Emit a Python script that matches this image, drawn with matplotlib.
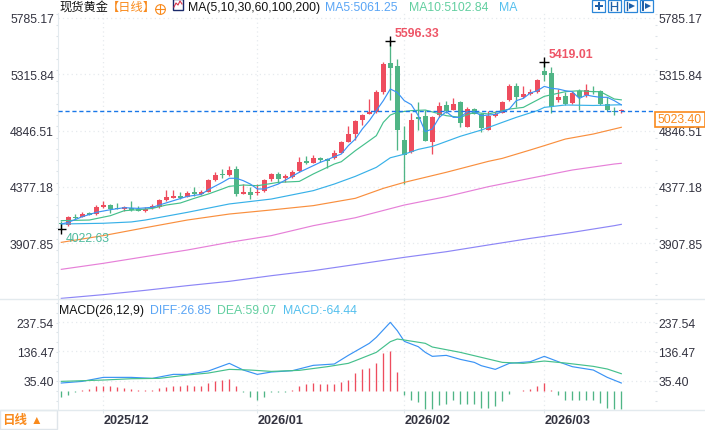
import matplotlib
matplotlib.use('Agg')
import matplotlib.pyplot as plt
from matplotlib.patches import Rectangle
from matplotlib.ticker import MultipleLocator

plt.rcParams['font.family'] = ['Liberation Sans', 'Noto Sans CJK SC', 'DejaVu Sans']

# daily candles, index 0 = first candle on the left
opens = [4072, 4059, 4125, 4126, 4160, 4151, 4210, 4226, 4200, 4193,
         4204, 4193, 4179, 4198, 4212, 4268, 4287, 4301, 4296, 4335,
         4315, 4337, 4435, 4478, 4476, 4526, 4320, 4337, 4324, 4346,
         4443, 4485, 4451, 4460, 4510, 4593, 4576, 4618, 4607, 4618,
         4660, 4751, 4818, 4935, 4985, 5001, 5168, 5410, 5385, 4768,
         4668, 4960, 4968, 4751, 4976, 5060, 5018, 5085, 4876, 5026,
         4985, 4851, 4968, 4993, 5101, 5218, 5127, 5152, 5168, 5343,
         5327, 5101, 5135, 5077, 5177, 5143, 5174, 5177, 5068, 5010, 5007]
highs = [4096, 4137, 4151, 4165, 4168, 4223, 4257, 4235, 4243, 4215,
         4257, 4215, 4212, 4232, 4276, 4351, 4351, 4332, 4340, 4374,
         4351, 4443, 4504, 4526, 4551, 4551, 4399, 4376, 4401, 4443,
         4496, 4499, 4482, 4518, 4629, 4635, 4643, 4629, 4618, 4682,
         4760, 4885, 4935, 4985, 5110, 5185, 5418, 5596.33, 5443, 4885,
         4993, 5085, 5018, 4965, 5085, 5093, 5118, 5093, 5043, 5035,
         4993, 5010, 5010, 5093, 5235, 5243, 5218, 5193, 5277, 5419.01,
         5377, 5193, 5168, 5177, 5193, 5235, 5218, 5185, 5127, 5043, 5026]
lows = [4022.63, 4048, 4110, 4123, 4140, 4146, 4198, 4157, 4193, 4179,
        4176, 4176, 4171, 4193, 4198, 4260, 4285, 4276, 4290, 4304,
        4312, 4332, 4426, 4449, 4471, 4298, 4320, 4276, 4312, 4332,
        4429, 4410, 4415, 4448, 4504, 4565, 4573, 4582, 4532, 4612,
        4660, 4751, 4768, 4893, 4985, 4993, 5152, 5102, 4685, 4401,
        4660, 4851, 4760, 4651, 4960, 4993, 5018, 4876, 4876, 4985,
        4835, 4851, 4960, 4993, 5093, 5043, 5118, 5143, 5160, 5260,
        4993, 5085, 5060, 5068, 5018, 5127, 5152, 5060, 5010, 4976, 4993]
closes = [4065, 4123, 4120, 4151, 4146, 4210, 4226, 4190, 4197, 4207,
          4182, 4179, 4193, 4215, 4268, 4293, 4301, 4282, 4326, 4315,
          4335, 4435, 4479, 4474, 4518, 4318, 4337, 4310, 4332, 4435,
          4485, 4443, 4468, 4501, 4585, 4576, 4618, 4604, 4590, 4660,
          4751, 4818, 4926, 4977, 5001, 5168, 5402, 5368, 4851, 4643,
          4935, 4943, 4760, 4957, 5052, 5010, 5068, 4910, 5026, 4985,
          4868, 4968, 4985, 5088, 5218, 5127, 5152, 5168, 5268, 5310,
          5043, 5127, 5068, 5160, 5127, 5182, 5168, 5068, 5018, 5004, 5013]

ma5_x = [0, 1, 3, 5, 7, 9, 11, 13, 14, 16, 18, 20, 21, 23, 24, 25, 26, 27, 28, 29, 31, 34,
         37, 38, 39, 40, 41, 42, 43, 44, 45, 46, 47, 48, 49, 50, 51, 52, 53, 54, 55, 56, 57,
         58, 59, 60, 61, 62, 63, 64, 65, 66, 67, 68, 69, 70, 71, 72, 73, 74, 75, 76, 77, 78, 79, 80]
ma5 = [4068, 4082, 4129, 4165, 4187, 4204, 4198, 4207, 4226, 4262, 4298, 4315, 4354, 4415, 4449, 4449,
       4429, 4401, 4360, 4360, 4401, 4499, 4582, 4604, 4629, 4651, 4721, 4776, 4860, 4929, 5013, 5096,
       5193, 5165, 5096, 5063, 4971, 4838, 4860, 4957, 5004, 4957, 4957, 5004, 5004, 4971, 4976, 4982,
       5004, 5026, 5096, 5115, 5160, 5179, 5215, 5199, 5193, 5179, 5171, 5115, 5143, 5132, 5124, 5124, 5096, 5061.25]
ma10_x = [0, 4, 7, 9, 11, 13, 15, 17, 19, 21, 23, 24, 26, 28, 31, 34, 36, 39, 40, 42, 44, 45, 46,
          47, 48, 50, 52, 55, 57, 59, 61, 64, 66, 69, 72, 74, 76, 77, 79, 80]
ma10 = [4096, 4101, 4137, 4179, 4187, 4198, 4226, 4243, 4282, 4318, 4360, 4382, 4393, 4387, 4415, 4423,
        4485, 4568, 4587, 4679, 4762, 4804, 4915, 4976, 4999, 5013, 5018, 4971, 4957, 4999, 4985, 5026,
        5040, 5132, 5171, 5179, 5171, 5171, 5110, 5102.84]
ma30_x = [0, 6, 10, 12, 18, 24, 30, 36, 39, 42, 45, 47, 49, 51, 53, 54, 57, 60, 63, 65, 68, 69, 72, 76, 80]
ma30 = [4068, 4074, 4085, 4101, 4165, 4235, 4276, 4346, 4401, 4465, 4540, 4620, 4650, 4690, 4715, 4735,
        4799, 4851, 4915, 4957, 5013, 5040, 5060, 5056, 5062]
ma60_x = [0, 6, 12, 18, 24, 30, 36, 42, 46, 49, 55, 61, 63, 67, 69, 72, 76, 80]
ma60 = [3915, 3971, 4037, 4101, 4151, 4185, 4221, 4282, 4365, 4415, 4499, 4590, 4615, 4685, 4721, 4776, 4818, 4874]
ma100_x = [0, 6, 12, 18, 24, 30, 36, 42, 49, 55, 61, 67, 73, 79, 80]
ma100 = [3690, 3740, 3796, 3851, 3915, 3971, 4054, 4120, 4226, 4296, 4379, 4449, 4518, 4568, 4574]
ma200_x = [0, 6, 12, 18, 24, 30, 36, 42, 49, 55, 61, 67, 73, 79, 80]
ma200 = [3448, 3479, 3515, 3554, 3590, 3637, 3679, 3730, 3790, 3837, 3893, 3948, 3998, 4054, 4065]

macd_hist = [-20.8, -13.8, -5.8, 3.5, 6.9, 15, 17.3, 17.3, 13.8, 10.4,
             6.9, 2.3, 1.2, 1.2, 8.1, 12.7, 15, 15, 18.4, 16,
             15, 27.7, 34.6, 35.7, 41.5, 15, -5.8, -20.8, -31, -20.8,
             -4.6, -3.5, -3.5, 3.5, 17.3, 21.9, 27.7, 24.2, 21.9, 24.2,
             28.8, 38, 62.3, 76, 79.6, 96.9, 131.4, 138.4, 65.7, -16,
             -31, -38, -64.6, -64.6, -50.7, -45, -33.4, -46, -45, -45,
             -61, -61, -54, -37, -10.4, -2.3, 3.5, 6.9, 17.3, 27.7,
             1.2, -13.8, -31, -31, -33.4, -31, -31, -41.5, -58.8, -64, -64.44]
diff_x = [0, 3, 6, 10, 13, 16, 18, 21, 24, 26, 28, 30, 33, 36, 39, 41, 44, 45, 47, 48, 49, 51, 52,
          53, 55, 57, 59, 60, 62, 64, 67, 69, 71, 73, 76, 78, 80]
diff = [26.8, 32.5, 46.3, 46.3, 42.9, 56.7, 56.7, 68.3, 94.8, 71.7, 56.7, 64.8, 69.4, 87.9, 92.5, 122.4,
        164, 184.7, 236.6, 207.8, 170.9, 152.4, 132.8, 119, 122.4, 108.6, 98.2, 86.7, 74, 94.8, 100.5,
        119, 100.5, 83.3, 71.7, 46.3, 26.85]
dea_x = [0, 6, 10, 14, 18, 21, 24, 27, 30, 34, 38, 41, 42, 45, 47, 48, 49, 52, 53, 57, 60, 63, 66, 69, 72, 76, 78, 80]
dea = [32.5, 37.1, 41.7, 42.9, 54.4, 61.3, 74, 71.7, 67, 70.6, 83.3, 94.8, 104, 132.8, 169.7, 178.9, 175.5,
       164, 151.3, 132.8, 115.5, 98.2, 94.8, 102.8, 95.9, 84.4, 75.2, 59.07]

price_ticks = [3907.85, 4377.18, 4846.51, 5315.84, 5785.17]
macd_ticks = [35.40, 136.47, 237.54]
date_pos = [6, 28, 49, 69]
date_labels = ['2025/12', '2026/01', '2026/02', '2026/03']
last_line = 5013

RED = '#ee4d5e'
GREEN = '#50b586'
COL_MA5 = '#3a93f5'
COL_MA10 = '#45c08c'
COL_MA30 = '#38b1e8'
COL_MA60 = '#f98f3e'
COL_MA100 = '#e680d8'
COL_MA200 = '#8d86f6'
GRID = '#e6eaee'
AXLINE = '#e3eaee'
TXT = '#333340'
ORANGE = '#f98a1c'
LINE_W = 0.85
BAR_W = 0.95

W, H = 705, 431
fig = plt.figure(figsize=(W / 100, H / 100), dpi=100)


def pixel_axes(left, top, right, bottom):
    return fig.add_axes([left / W, 1 - bottom / H, (right - left) / W, (bottom - top) / H])


def style_pane(ax, ticks, labels):
    for side in ['top', 'right', 'left', 'bottom']:
        ax.spines[side].set_visible(False)
    ax.spines['left'].set_visible(True)
    ax.spines['left'].set_color(AXLINE)
    ax.set_xlim((57.5 - 61.3) / 7, (655 - 61.3) / 7)
    ax.set_yticks(ticks)
    ax.set_yticklabels(labels)
    ax.tick_params(axis='y', which='major', labelleft=True, labelright=True, left=False, right=False,
                   length=0, labelsize=8.8, labelcolor=TXT, pad=2.6)
    ax.tick_params(axis='y', which='minor', left=True, right=True, length=1.5, color='#dde3e8', width=0.8)
    ax.grid(True, axis='both', color=GRID, linestyle=(0, (1, 2.5)), linewidth=0.9)
    ax.set_axisbelow(True)


def draw_candles(ax):
    for i in range(len(opens)):
        col = RED if closes[i] >= opens[i] else GREEN
        ax.vlines(i, lows[i], highs[i], color=col, linewidth=BAR_W, zorder=2, snap=True)
        bottom = min(opens[i], closes[i])
        height = max(abs(closes[i] - opens[i]), 8)
        ax.bar(i, height, bottom=bottom, width=0.72, color=col, linewidth=0, zorder=2)


def draw_price(ax):
    draw_candles(ax)
    for xs, ys, col in [(ma200_x, ma200, COL_MA200), (ma100_x, ma100, COL_MA100), (ma60_x, ma60, COL_MA60),
                        (ma30_x, ma30, COL_MA30), (ma10_x, ma10, COL_MA10), (ma5_x, ma5, COL_MA5)]:
        ax.plot(xs, ys, color=col, linewidth=LINE_W, zorder=3)
    ax.axhline(last_line, color='#1a78e8', linestyle=(0, (3, 2)), linewidth=1.0, zorder=4)
    ax.plot([47, 69, 0], [highs[47], highs[69], lows[0]], linestyle='none', marker='+', markersize=6.5,
            markeredgewidth=1.0, color='black', zorder=5)


def draw_macd(ax):
    cols = [RED if v >= 0 else GREEN for v in macd_hist]
    ax.vlines(range(len(macd_hist)), 0, macd_hist, colors=cols, linewidth=BAR_W, zorder=2, snap=True)
    ax.plot(diff_x, diff, color=COL_MA5, linewidth=LINE_W, zorder=3)
    ax.plot(dea_x, dea, color=COL_MA10, linewidth=LINE_W, zorder=3)


def draw_overlay():
    ov = fig.add_axes([0, 0, 1, 1], zorder=10)
    ov.set_xlim(0, W)
    ov.set_ylim(H, 0)
    ov.axis('off')
    ov.patch.set_alpha(0)

    # header row
    ov.text(59, 8, '现货黄金', fontsize=8.8, color='#111111', va='center')
    ov.text(107, 8, '【日线】', fontsize=8.8, color=ORANGE, va='center')
    ov.plot(160, 9.5, marker='o', markersize=7, markerfacecolor='none', markeredgecolor=ORANGE, markeredgewidth=0.8)
    ov.plot(160, 9.5, marker='+', markersize=7, color=ORANGE, markeredgewidth=0.8)
    ov.add_patch(Rectangle((173, 0), 10, 10.5, facecolor='white', edgecolor='#1b2a6b', linewidth=1))
    ov.plot([174, 176, 178, 180, 182], [8, 4, 6, 2, 5], color='#d8344a', linewidth=0.8)
    ov.text(188, 8, 'MA(5,10,30,60,100,200)', fontsize=8.8, color='#111111', va='center')
    ov.text(325, 8, 'MA5:5061.25', fontsize=8.8, color='#5aa5f5', va='center')
    ov.text(409, 8, 'MA10:5102.84', fontsize=8.8, color='#62cfa0', va='center')
    ov.text(499, 8, 'MA', fontsize=8.8, color='#55c0ee', va='center')

    # toolbar icons
    for left in [592, 608, 624, 640]:
        ov.add_patch(Rectangle((left, 0.5), 12.5, 12, facecolor='white', edgecolor='#2a86d8', linewidth=0.9))
    ov.plot([598.5], [6.5], marker='P', markersize=6, color='#1d5fa8', markeredgewidth=0)
    ov.plot([611, 611], [2.5, 10.5], color='#1d5fa8', linewidth=1)
    ov.plot([617, 617], [2.5, 10.5], color='#1d5fa8', linewidth=1)
    ov.plot([611, 617], [6.5, 6.5], color='#1d5fa8', linewidth=0.8)
    ov.plot([627, 627], [2.5, 10.5], color='#1d5fa8', linewidth=1)
    ov.plot([631.5], [6.5], marker='>', markersize=5, color='#1d5fa8', markeredgewidth=0)
    ov.plot([643, 643], [2.5, 10.5], color='#1d5fa8', linewidth=1.4)
    ov.plot([647.5], [6.5], marker='>', markersize=5, color='#1d5fa8', markeredgewidth=0)

    # extreme labels
    ov.text(395, 34, '5596.33', fontsize=8.8, color='#ee5567', weight='bold', va='center')
    ov.text(549, 55, '5419.01', fontsize=8.8, color='#ee5567', weight='bold', va='center')
    ov.text(66, 239, '4022.63', fontsize=8.8, color='#4fbb9e', va='center')

    # last price box
    ov.add_patch(Rectangle((654.5, 112.5), 50, 15.5, facecolor='white', edgecolor=ORANGE, linewidth=1.2))
    ov.text(657.5, 120.5, '5023.40', fontsize=8.8, color=ORANGE, va='center')

    # macd header
    ov.text(59, 311, 'MACD(26,12,9)', fontsize=8.8, color='#111111', va='center')
    ov.text(150, 311, 'DIFF:26.85', fontsize=8.8, color='#5aa5f5', va='center')
    ov.text(217, 311, 'DEA:59.07', fontsize=8.8, color='#62cfa0', va='center')
    ov.text(283, 311, 'MACD:-64.44', fontsize=8.8, color='#55c0ee', va='center')

    # frame lines and period selector
    ov.plot([0, W], [300, 300], color=AXLINE, linewidth=1)
    ov.plot([0, W], [411, 411], color=AXLINE, linewidth=1)
    ov.add_patch(Rectangle((0, 411.5), 56.5, 19, facecolor='white', edgecolor='#dfe5ea', linewidth=1))
    ov.text(2, 421, '日线', fontsize=9, color=ORANGE, weight='bold', va='center')
    ov.text(31, 421, '▲', fontsize=8.5, color=ORANGE, va='center')


def main():
    ax_price = pixel_axes(57.5, 14, 655, 300)
    ax_price.set_ylim(3442.7, 5826.85)
    style_pane(ax_price, price_ticks, [f'{v:.2f}' for v in price_ticks])
    ax_price.yaxis.set_minor_locator(MultipleLocator((price_ticks[1] - price_ticks[0]) / 5))
    ax_price.set_xticks(date_pos)
    ax_price.tick_params(axis='x', bottom=False, labelbottom=False)
    draw_price(ax_price)

    ax_macd = pixel_axes(57.5, 300, 655, 411)
    ax_macd.set_ylim(-66.5, 317.3)
    style_pane(ax_macd, macd_ticks, [f'{v:.2f}' for v in macd_ticks])
    ax_macd.yaxis.set_minor_locator(MultipleLocator((macd_ticks[1] - macd_ticks[0]) / 3))
    ax_macd.set_xticks(date_pos)
    ax_macd.set_xticklabels(date_labels, ha='left', fontsize=9.1, weight='bold', color=TXT)
    ax_macd.tick_params(axis='x', length=2, color=AXLINE, pad=1)
    draw_macd(ax_macd)

    draw_overlay()
    fig.savefig('out.png', dpi=100)


if __name__ == "__main__":
    main()
